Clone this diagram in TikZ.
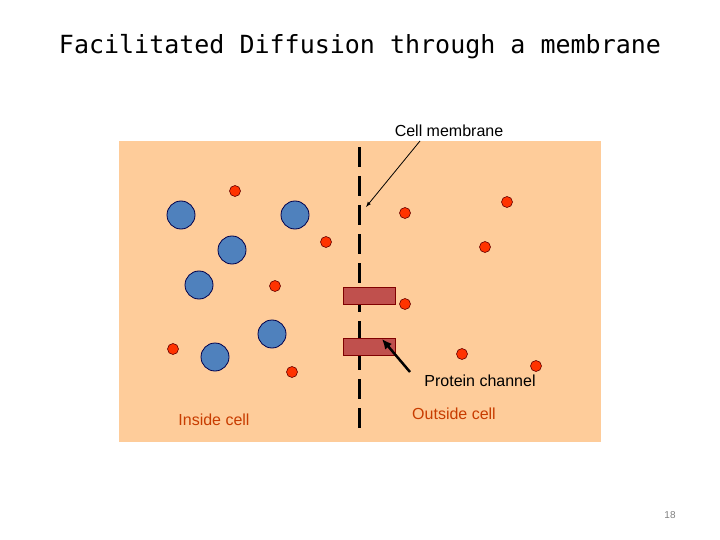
\documentclass[tikz,border=0pt]{standalone}
\usepackage{fontspec}
\usetikzlibrary{arrows.meta}
\setmainfont{Liberation Sans}
\newfontfamily\titlefont{DejaVu Sans Mono}
\begin{document}
\begin{tikzpicture}[x=1pt,y=-1pt,
  big/.style={circle,draw=black!70!blue,fill={rgb,255:red,79;green,129;blue,189},minimum size=28pt,inner sep=0pt,line width=0.8pt},
  small/.style={circle,draw=black!60!red,fill={rgb,255:red,255;green,51;blue,0},minimum size=11pt,inner sep=0pt,line width=0.6pt},
  chan/.style={draw=black!50!red,fill={rgb,255:red,192;green,80;blue,77},minimum width=52pt,minimum height=17pt,inner sep=0pt},
  lbl/.style={font=\fontsize{16}{18}\selectfont}]
\useasboundingbox (0,0) rectangle (720,540);
\fill[fill={rgb,255:red,254;green,204;blue,154}] (119,141) rectangle (601,442);
\coordinate (mt) at (359,147); \coordinate (mb) at (359,437);
\draw[line width=3pt,dash pattern=on 20pt off 9pt] (mt) -- (mb);
\node[chan] (c1) at (369,295.5) {};
\node[chan] (c2) at (369,346.5) {};
\foreach \n/\x/\y in {b1/181/215,b2/295/215,b3/232/250,b4/199/285,b5/272/334,b6/215/357}
  \node[big] (\n) at (\x,\y) {};
\foreach \n/\x/\y in {r1/235/191,r2/326/242,r3/275/286,r4/173/349,r5/292/372,r6/405/213,r7/507/202,r8/485/247,r9/405/304,r10/462/354,r11/536/366}
  \node[small] (\n) at (\x,\y) {};
\node[font=\titlefont\fontsize{25}{28}\selectfont] (title) at (360,47) {Facilitated Diffusion through a membrane};
\node[lbl] (cm) at (449,131) {Cell membrane};
\coordinate (cmend) at (366,207);
\draw[-latex,thick] (420,141) -- (cmend);
\node[lbl] (pc) at (480,381) {Protein channel};
\coordinate (pcend) at (382,339);
\draw[-{Latex[length=10pt,width=9pt]},line width=2.5pt] (410,372) -- (pcend);
\node[lbl,text={rgb,255:red,200;green,60;blue,0}] (in) at (214,420) {Inside cell};
\node[lbl,text={rgb,255:red,200;green,60;blue,0}] (out) at (454,414) {Outside cell};
\node[font=\fontsize{10}{12}\selectfont,text=gray] (pg) at (670,515) {18};
\end{tikzpicture}
\end{document}
